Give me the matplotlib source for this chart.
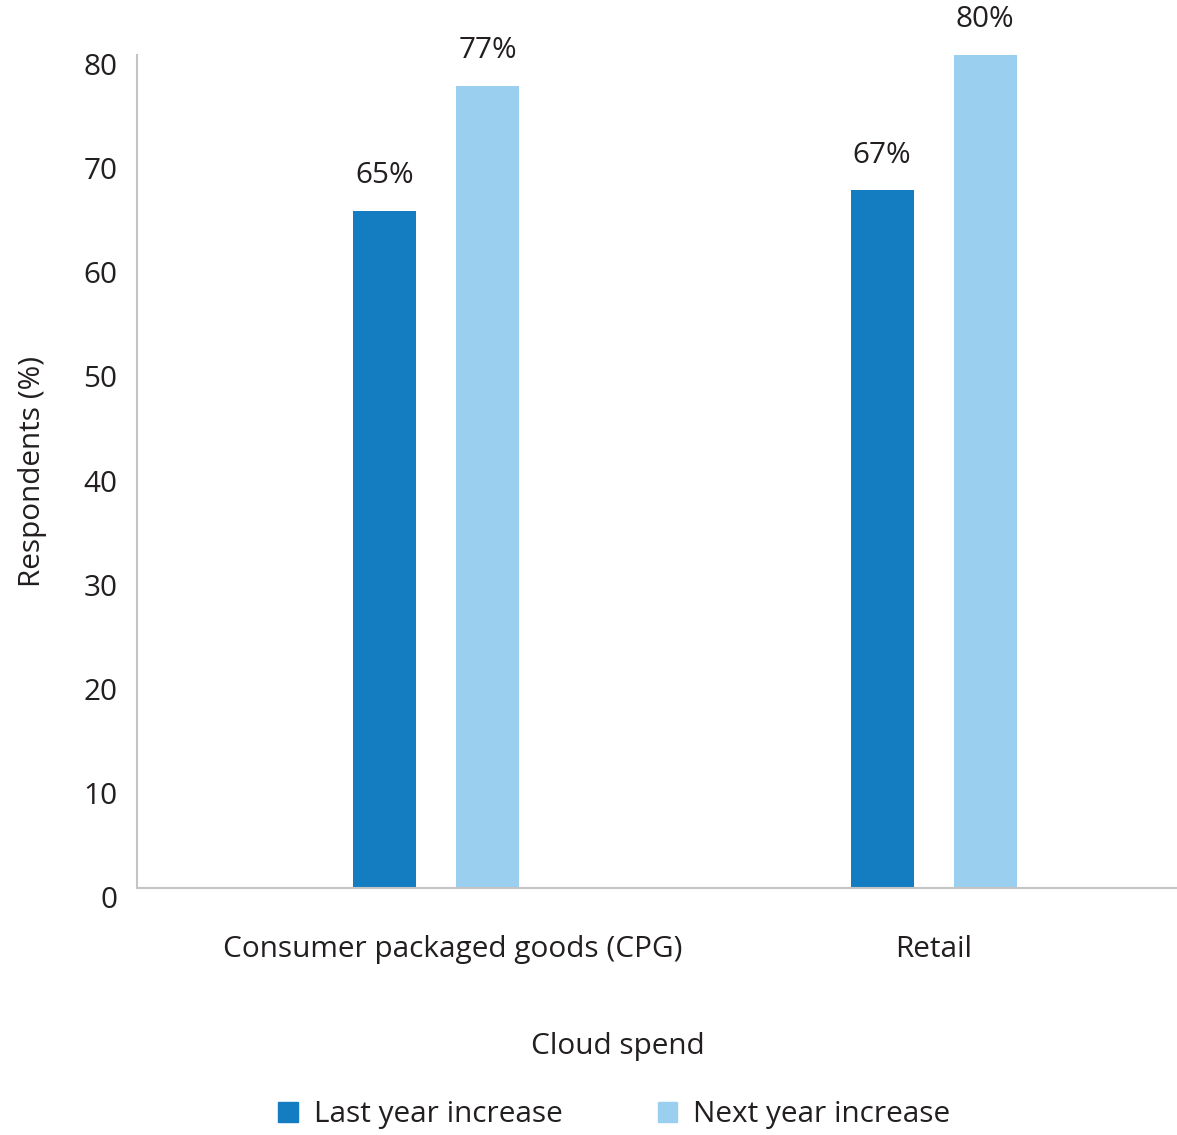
import numpy as np
import matplotlib.pyplot as plt
import matplotlib.transforms as mtransforms
from matplotlib.patches import Patch

# cloud spend survey results, percent of respondents
categories = ["Consumer packaged goods (CPG)", "Retail"]
last_year = [65, 67]
next_year = [77, 80]
series_names = ["Last year increase", "Next year increase"]
yticks = [0, 10, 20, 30, 40, 50, 60, 70, 80]

dark_blue = "#147dc2"
light_blue = "#9acff0"
axis_grey = "#c4c4c4"
text_col = "#231f20"
fs = 21.4

plt.rcParams['font.family'] = ['Open Sans', 'DejaVu Sans']

fig = plt.figure(figsize=(11.77, 11.35), dpi=100)
ax = fig.add_axes([0.1164, 0.2176, 0.8836, 0.7339])

x = np.arange(len(categories))
w = 0.1266
off = 0.1035
b1 = ax.bar(x - off, last_year, w, color=dark_blue)
b2 = ax.bar(x + off, next_year, w, color=light_blue)

for bars, vals in ((b1, last_year), (b2, next_year)):
    for rect, v in zip(bars, vals):
        ax.annotate(f"{v}%", (rect.get_x() + rect.get_width() / 2, v),
                    xytext=(0, 15), textcoords="offset points",
                    ha="center", va="bottom", fontsize=fs, color=text_col)

ax.set_xlim(-0.601, 1.489)
ax.set_ylim(0, 80)
ax.set_yticks(yticks)
ax.set_xticks(x)
ax.set_xticklabels(categories)
ax.tick_params(axis="both", length=0, labelsize=fs, labelcolor=text_col)
ax.tick_params(axis="y", pad=14)
ax.tick_params(axis="x", pad=34)
# CPG label sits a bit right of its bar pair
xl = ax.get_xticklabels()
xl[0].set_transform(xl[0].get_transform() +
                    mtransforms.ScaledTranslation(0.17, 0, fig.dpi_scale_trans))

# nudge y tick labels down a little
shift = mtransforms.ScaledTranslation(0, -9 / 100, fig.dpi_scale_trans)
for lab in ax.get_yticklabels():
    lab.set_transform(lab.get_transform() + shift)

for s in ("top", "right"):
    ax.spines[s].set_visible(False)
for s in ("left", "bottom"):
    ax.spines[s].set_color(axis_grey)
    ax.spines[s].set_linewidth(1.5)

ax.set_ylabel("Respondents (%)", fontsize=fs, color=text_col, labelpad=26)
fig.text(0.525, 0.078, "Cloud spend", ha="center", va="center",
         fontsize=fs, color=text_col)

handles = [Patch(color=dark_blue), Patch(color=light_blue)]
fig.legend(handles, series_names, loc="center", bbox_to_anchor=(0.522, 0.018),
           ncol=2, frameon=False, fontsize=fs, handlelength=0.65,
           handleheight=0.65, handletextpad=0.55, columnspacing=3.2,
           labelcolor=text_col)

fig.savefig("out.png", dpi=100)
